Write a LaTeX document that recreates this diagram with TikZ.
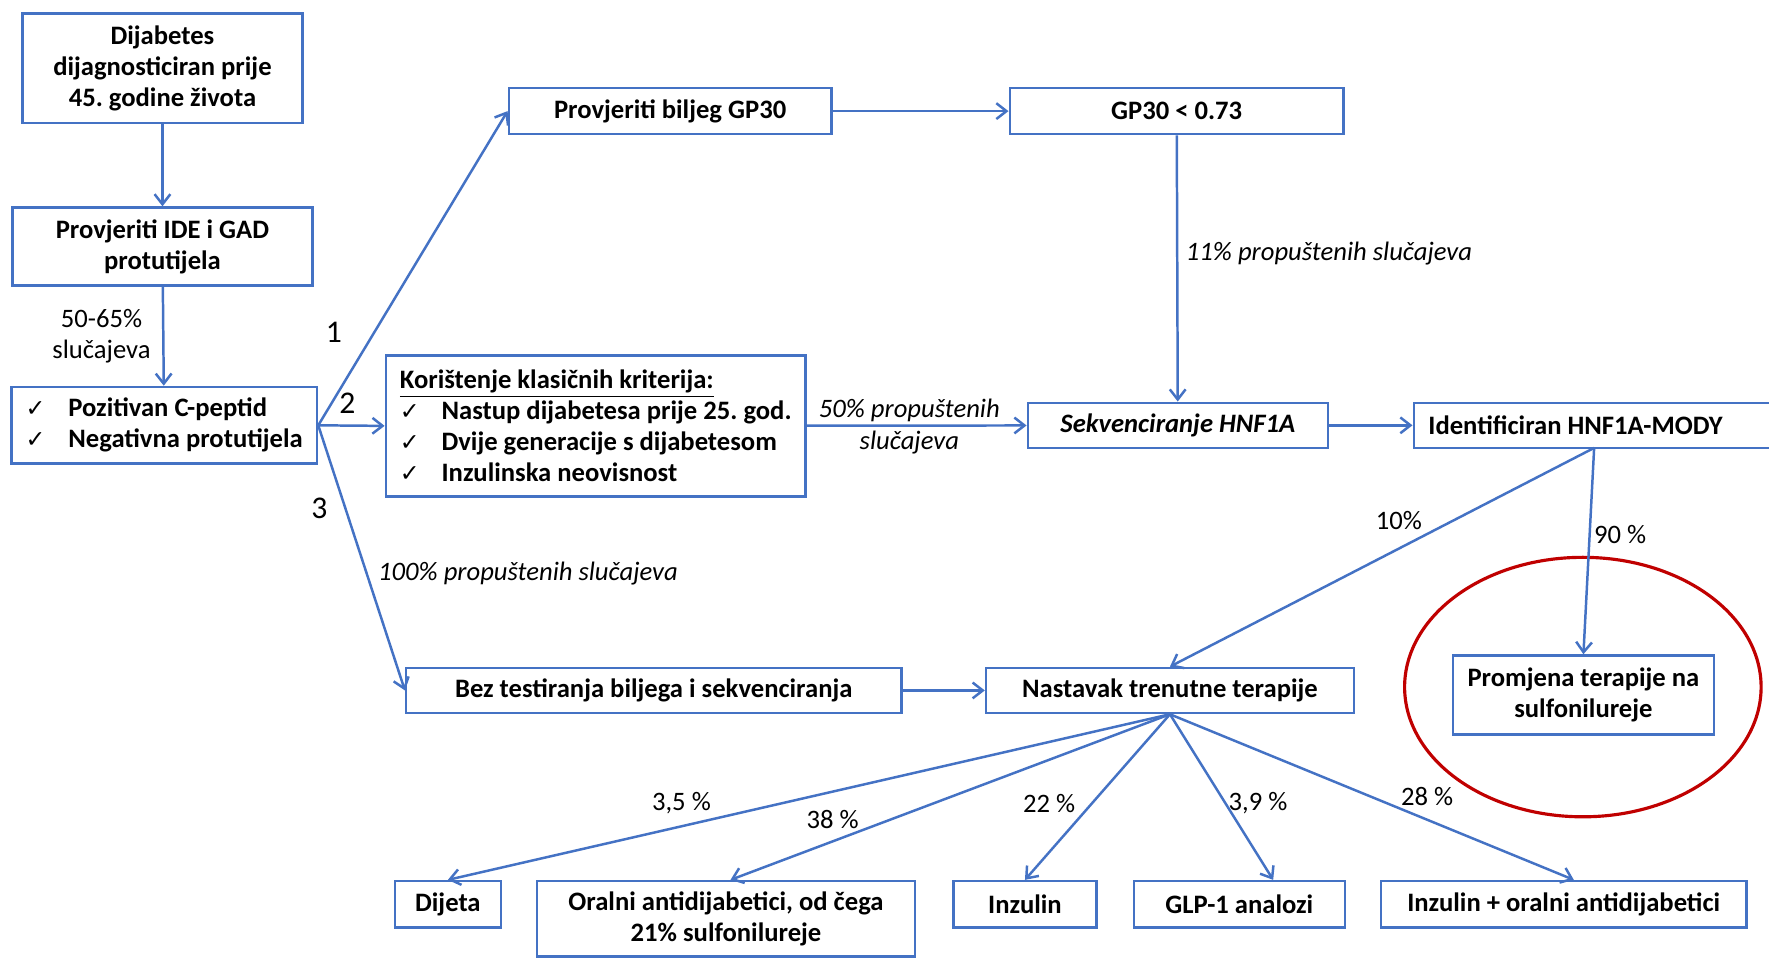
\documentclass[tikz,border=0pt]{standalone}
\usepackage{fontspec}
\setmainfont{Carlito}
\newfontfamily\djv{DejaVu Sans}
\usetikzlibrary{arrows.meta,calc}
\definecolor{blu}{HTML}{4472C4}
\definecolor{rd}{HTML}{C00000}
\newcommand{\chk}{{\djv\fontsize{10.5}{10}\selectfont ✓}}
\frenchspacing
\begin{document}
\begin{tikzpicture}[x=0.5pt,y=-0.5pt,
 box/.style={draw=blu, line width=1.1pt, inner sep=0pt, align=center, font=\bfseries\fontsize{11.8}{13.8}\selectfont},
 arr/.style={draw=blu, line width=1.1pt, -{Straight Barb[length=4.5pt,width=7pt]}},
 lbl/.style={font=\fontsize{11.8}{14}\selectfont, inner sep=0pt, align=center},
 ilbl/.style={lbl, font=\itshape\fontsize{11.8}{14}\selectfont},
 num/.style={font=\fontsize{14}{15}\selectfont, inner sep=0pt}]
\useasboundingbox (0,0) rectangle (1568,849);

% boxes
\node[box, minimum width=124pt, minimum height=48.5pt] (A) at (144,60.5) {Dijabetes\\dijagnosticiran prije\\45. godine života};
\node[box, minimum width=133pt, minimum height=34.5pt] (B) at (144,218.5) {Provjeriti IDE i GAD\\protutijela};
\node[box, align=left, minimum width=135.5pt, minimum height=34pt] (C) at (145.5,377)
 {\makebox[19pt][l]{\chk}Pozitivan C-peptid\\\makebox[19pt][l]{\chk}Negativna protutijela};
\node[box, minimum width=143pt, minimum height=20.5pt] (GPc) at (594,98.5) {Provjeriti biljeg GP30};
\node[box, minimum width=148pt, minimum height=20.5pt] (GPl) at (1043,98.5) {GP30 < 0.73};
\node[box, align=left, minimum width=186pt, minimum height=62.5pt] (Kor) at (528,377.5)
 {\underline{Korištenje klasičnih kriterija:}\\
  \makebox[18.5pt][l]{\chk}Nastup dijabetesa prije 25. god.\\
  \makebox[18.5pt][l]{\chk}Dvije generacije s dijabetesom\\
  \makebox[18.5pt][l]{\chk}Inzulinska neovisnost};
\node[box, minimum width=133pt, minimum height=20pt, font=\bfseries\itshape\fontsize{11.8}{13.8}\selectfont] (Sekv) at (1044,377) {Sekvenciranje HNF1A};
\node[box, anchor=west, inner xsep=6.5pt, minimum height=20pt] (Ident) at (1252,377) {\makebox[160pt][l]{Identificiran HNF1A-MODY}};
\node[box, minimum width=219.5pt, minimum height=20pt] (Bez) at (579.5,612) {Bez testiranja biljega i sekvenciranja};
\node[box, minimum width=163pt, minimum height=20pt] (Nast) at (1037,612) {Nastavak trenutne terapije};
\node[box, minimum width=115.5pt, minimum height=35pt] (Prom) at (1403.5,616) {Promjena terapije na\\sulfonilureje};
\node[box, minimum width=47pt, minimum height=20.5pt] (Dij) at (397,801.5) {Dijeta};
\node[box, minimum width=167.5pt, minimum height=33.5pt] (Or) at (643.5,814.5) {Oralni antidijabetici, od čega\\21\% sulfonilureje};
\node[box, minimum width=63.5pt, minimum height=20.5pt] (Inz) at (908.5,801.5) {Inzulin};
\node[box, minimum width=93.5pt, minimum height=20.5pt] (GLP) at (1098.5,801.5) {GLP-1 analozi};
\node[box, minimum width=162pt, minimum height=20.5pt] (InzOr) at (1386,801.5) {Inzulin + oralni antidijabetici};

% red ellipse
\draw[rd, line width=1.4pt] (1403,609) ellipse [x radius=79pt, y radius=57.5pt];

% connectors
\coordinate (idb) at (1413,397);
\draw[arr] (A) -- (B);
\draw[arr] (B) -- (C);
\draw[arr] (C.east) -- (GPc.west);
\draw[arr] (C.east) -- (Kor.west);
\draw[arr] (C.east) -- (Bez.west);
\draw[arr] (GPc) -- (GPl);
\draw[arr] (GPl) -- (Sekv);
\draw[arr] (Kor) -- (Sekv);
\draw[arr] (Bez) -- (Nast);
\draw[arr] (Sekv) -- (Ident.west);
\draw[arr] (idb) -- (Nast.north);
\draw[arr] (idb) -- (Prom.north);
\draw[arr] (Nast.south) -- (Dij.north);
\draw[arr] (Nast.south) -- ($(Or.north)+(2pt,0)$);
\draw[arr] (Nast.south) -- (Inz.north);
\draw[arr] (Nast.south) -- ($(GLP.north)+(15pt,0)$);
\draw[arr] (Nast.south) -- ($(InzOr.north)+(4.5pt,0)$);

% labels
\node[lbl] (l50) at (90,298) {50-65\%\\slučajeva};
\node[num] (n1) at (296,295) {1};
\node[num] (n2) at (308,357) {2};
\node[num] (n3) at (283,451) {3};
\node[ilbl] (l11) at (1178,225) {11\% propuštenih slučajeva};
\node[ilbl] (l50b) at (806,378) {50\% propuštenih\\slučajeva};
\node[ilbl] (l100) at (468,508) {100\% propuštenih slučajeva};
\node[lbl] (l10) at (1240,461) {10\%};
\node[lbl] (l90) at (1436,474) {90 \%};
\node[lbl] (l35) at (604,712) {3,5 \%};
\node[lbl] (l38) at (738,726) {38 \%};
\node[lbl] (l22) at (930,712) {22 \%};
\node[lbl] (l39) at (1115,712) {3,9 \%};
\node[lbl] (l28) at (1265,706) {28 \%};
\end{tikzpicture}
\end{document}
